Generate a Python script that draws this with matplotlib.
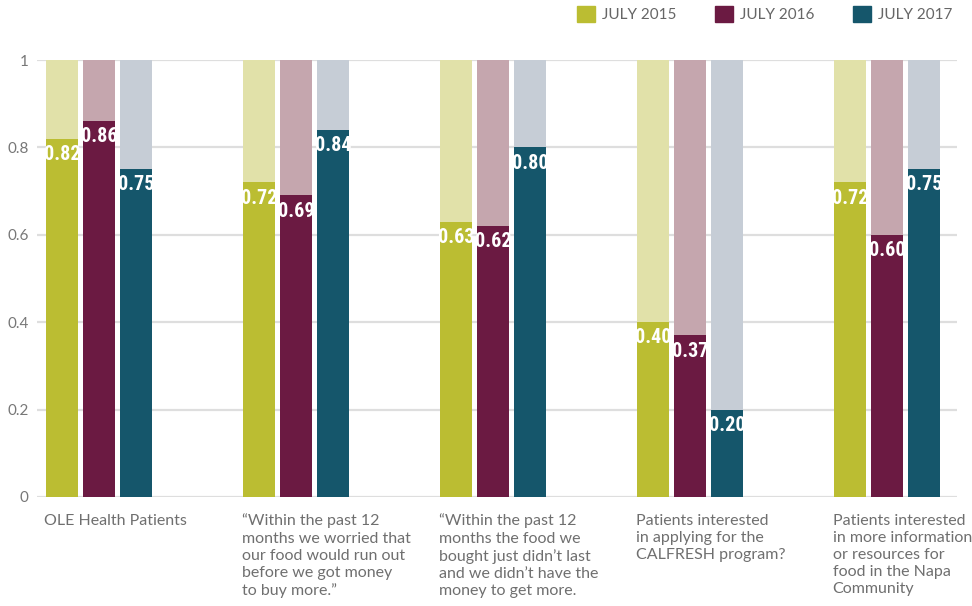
"""Food insecurity survey results, grouped stacked bars by year."""

import numpy as np
import matplotlib.pyplot as plt
from matplotlib import font_manager
from matplotlib.patches import Patch

# Survey questions (x categories)
categories = [
    "OLE Health Patients",
    "\u201cWithin the past 12\nmonths we worried that\nour food would run out\n"
    "before we got money\nto buy more.\u201d",
    "\u201cWithin the past 12\nmonths the food we\nbought just didn\u2019t last\n"
    "and we didn\u2019t have the\nmoney to get more.",
    "Patients interested\nin applying for the\nCALFRESH program?",
    "Patients interested\nin more information\nor resources for\n"
    "food in the Napa\nCommunity",
]

years = ["JULY 2015", "JULY 2016", "JULY 2017"]
vals_2015 = [0.82, 0.72, 0.63, 0.40, 0.72]
vals_2016 = [0.86, 0.69, 0.62, 0.37, 0.60]
vals_2017 = [0.75, 0.84, 0.80, 0.20, 0.75]

y_ticks = [0, 0.2, 0.4, 0.6, 0.8, 1]
y_tick_labels = ["0", "0.2", "0.4", "0.6", "0.8", "1"]

dark_colors = ["#bbbd32", "#6b1a42", "#15566b"]
light_colors = ["#e1e1a9", "#c5a6ae", "#c6cdd6"]

# Bar labels want a narrow bold face; use one if it is installed
installed = {f.name for f in font_manager.fontManager.ttflist}
narrow = [n for n in ("Roboto Condensed", "Liberation Sans Narrow",
                      "Open Sans Condensed", "Noto Sans Condensed")
          if n in installed]
if narrow:
    label_font, label_size = narrow[0], 14.5
else:
    label_font, label_size = "Roboto", 12

W, H = 972, 606
fig = plt.figure(figsize=(W / 100, H / 100), dpi=100)
ax = fig.add_axes([37 / W, 1 - 497 / H, (957 - 37) / W, (497 - 60) / H])

# Bar geometry in units of the group pitch (197 px)
pitch = 197.0
bar_w = 32 / pitch
step = 37 / pitch
x = np.arange(len(categories))

for j, vals in enumerate([vals_2015, vals_2016, vals_2017]):
    vals = np.array(vals)
    pos = x + (j - 1) * step
    ax.bar(pos, vals, width=bar_w, color=dark_colors[j], zorder=3)
    ax.bar(pos, 1 - vals, bottom=vals, width=bar_w,
           color=light_colors[j], zorder=3)
    for px, v in zip(pos, vals):
        ax.annotate(f"{v:.2f}", (px, v), xytext=(0, -4.5),
                    textcoords="offset points", ha="center", va="top",
                    color="white", fontsize=label_size, fontweight="bold",
                    family=label_font, zorder=4)

ax.set_ylim(0, 1)
ax.set_xlim((37 - 99) / pitch, (957 - 99) / pitch)
ax.set_yticks(y_ticks)
ax.set_yticklabels(y_tick_labels, family="Lato", fontsize=11, color="#777777")
ax.tick_params(axis="y", length=0, pad=6)
ax.set_xticks([])
for s in ax.spines.values():
    s.set_visible(False)
ax.grid(axis="y", color="#dedede", linewidth=1.6, zorder=0)
ax.set_axisbelow(True)

# Category labels, left aligned under the first bar of each group
for i, cat in enumerate(categories):
    ax.text(i - step - bar_w / 2 - 1.5 / pitch, -0.038, cat,
            ha="left", va="top", family="Lato", fontsize=11.5,
            color="#6f6f6f", linespacing=1.28)

handles = [Patch(color=c) for c in dark_colors]
fig.legend(handles, years, loc="upper left",
           bbox_to_anchor=(577 / W, 1 - 6 / H), ncol=3, frameon=False,
           prop={"family": "Lato", "size": 11}, labelcolor="#666666",
           handlelength=1.2, handleheight=1.2, handletextpad=0.45,
           columnspacing=2.5, borderpad=0, borderaxespad=0)

fig.savefig("out.png", dpi=100)
